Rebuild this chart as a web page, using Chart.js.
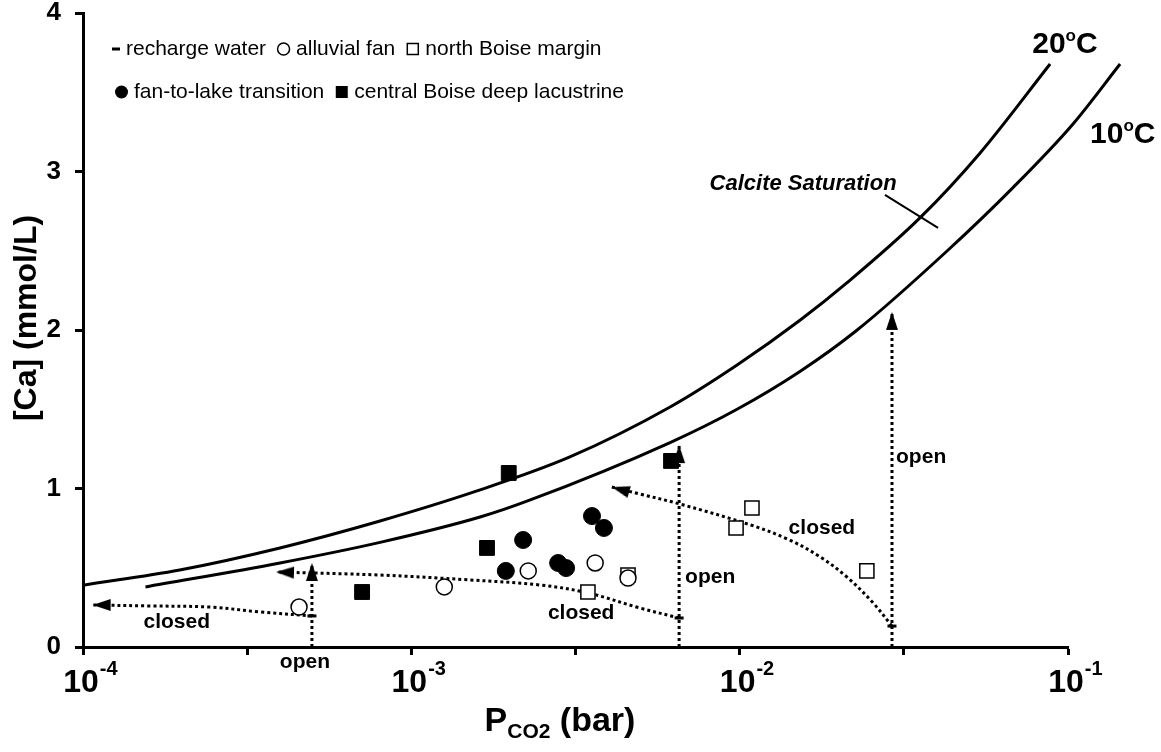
<!DOCTYPE html>
<html>
<head>
<meta charset="utf-8">
<script src="https://cdn.jsdelivr.net/npm/chart.js@4.4.1/dist/chart.umd.min.js"></script>
<style>
html,body{margin:0;padding:0;background:#fff;}
#wrap{width:1161px;height:752px;position:relative;}
</style>
</head>
<body>
<div id="wrap"><canvas id="calciteChart" width="1161" height="752"></canvas></div>
<script>
// calcite saturation curves
var sat20P  = [1.0e-4, 1.97e-4, 3.98e-4, 8.03e-4, 1.56e-3, 3.04e-3, 6.14e-3, 9.82e-3, 1.53e-2, 2.12e-2, 3.54e-2, 5.40e-2, 8.82e-2];
var sat20Ca = [0.39, 0.486, 0.625, 0.795, 0.98, 1.199, 1.514, 1.779, 2.063, 2.297, 2.707, 3.117, 3.678];
var sat10P  = [1.55e-4, 3.98e-4, 8.03e-4, 1.62e-3, 2.25e-3, 6.14e-3, 9.82e-3, 1.53e-2, 2.28e-2, 4.29e-2, 6.81e-2, 0.1036, 0.1441];
var sat10Ca = [0.379, 0.53, 0.66, 0.82, 0.92, 1.29, 1.50, 1.74, 2.00, 2.50, 2.90, 3.30, 3.678];

// samples
var rechargeP  = [4.98e-4, 6.54e-3, 2.91e-2];
var rechargeCa = [0.196, 0.183, 0.132];
var alluvialP  = [4.55e-4, 1.26e-3, 2.27e-3, 3.63e-3, 4.57e-3];
var alluvialCa = [0.252, 0.379, 0.480, 0.530, 0.435];
var northP  = [3.45e-3, 4.57e-3, 9.75e-3, 1.09e-2, 2.44e-2];
var northCa = [0.347, 0.454, 0.751, 0.877, 0.480];
var fanLakeP  = [1.94e-3, 2.19e-3, 2.80e-3, 2.96e-3, 3.55e-3, 3.86e-3];
var fanLakeCa = [0.480, 0.675, 0.530, 0.498, 0.826, 0.751];
var centralP  = [7.08e-4, 1.70e-3, 1.98e-3, 6.18e-3];
var centralCa = [0.347, 0.625, 1.098, 1.174];

// evolution paths (dotted arrows)
var closed1P  = [4.98e-4, 3.46e-4, 2.44e-4, 1.60e-4, 1.07e-4];
var closed1Ca = [0.196, 0.221, 0.252, 0.259, 0.265];
var open1P  = [4.98e-4, 4.98e-4];
var open1Ca = [0, 0.53];
var closed2P  = [6.54e-3, 4.97e-3, 3.45e-3, 2.47e-3, 1.51e-3, 8.03e-4, 3.87e-4];
var closed2Ca = [0.183, 0.246, 0.341, 0.391, 0.423, 0.454, 0.473];
var open2P  = [6.54e-3, 6.54e-3];
var open2Ca = [0, 1.274];
var closed3P  = [2.91e-2, 2.55e-2, 2.12e-2, 1.76e-2, 1.42e-2, 1.08e-2, 6.58e-3, 4.97e-3, 4.08e-3];
var closed3Ca = [0.132, 0.278, 0.442, 0.568, 0.675, 0.770, 0.902, 0.965, 1.009];
var open3P  = [2.91e-2, 2.91e-2];
var open3Ca = [0, 2.114];
var leaderP  = [2.77e-2, 4.02e-2];
var leaderCa = [2.852, 2.644];

// axes
var xTickValues = [1e-4, 3.162e-4, 1e-3, 3.162e-3, 1e-2, 3.162e-2, 1e-1];
var xDecades = [1e-4, 1e-3, 1e-2, 1e-1];
var xExponents = ['-4', '-3', '-2', '-1'];
var yTickValues = [0, 1, 2, 3, 4];

var legendLabels = ['recharge water', 'alluvial fan', 'north Boise margin', 'fan-to-lake transition', 'central Boise deep lacustrine'];

// text notes in data coords: [text, P, Ca]
var notes = [
  ['closed', 1.93e-4, 0.158],
  ['open', 4.74e-4, -0.095],
  ['closed', 3.29e-3, 0.215],
  ['open', 8.13e-3, 0.442],
  ['closed', 1.78e-2, 0.751],
  ['open', 3.57e-2, 1.199]
];

var FONT = '"Liberation Sans", Arial, Helvetica, sans-serif';

function pts(xs, ys){
	return xs.map(function(x, i){ return {x: x, y: ys[i]}; });
}

function makeArrowHead(){
	var c = document.createElement('canvas');
	c.width = 14; c.height = 38;
	var g = c.getContext('2d');
	g.fillStyle = '#000';
	g.beginPath();
	g.moveTo(7, 19);
	g.lineTo(13, 37);
	g.lineTo(1, 37);
	g.closePath();
	g.fill();
	return c;
}
var arrowHead = makeArrowHead();

function arrowSet(xs, ys, angle, curved){
	var n = xs.length;
	var styles = [], radii = [], rots = [];
	for(var i = 0; i < n; i++){
		styles.push(i === n-1 ? arrowHead : 'circle');
		radii.push(i === n-1 ? 5 : 0);
		rots.push(i === n-1 ? angle : 0);
	}
	return {
		data: pts(xs, ys),
		showLine: true,
		borderColor: '#000',
		borderWidth: 3,
		borderDash: [3, 3],
		borderCapStyle: 'butt',
		tension: curved ? 0.35 : 0,
		pointStyle: styles,
		pointRadius: radii,
		rotation: rots,
		pointBackgroundColor: '#000',
		pointBorderWidth: 0
	};
}

function curveSet(xs, ys){
	// listed high-to-low so chart.js does not trim the points past the axis end
	return {
		data: pts(xs, ys).reverse(),
		showLine: true,
		borderColor: '#000',
		borderWidth: 3,
		pointRadius: 0,
		cubicInterpolationMode: 'monotone',
		clip: false
	};
}

var figureText = {
	id: 'figureText',
	afterDraw: function(chart){
		var ctx = chart.ctx;
		var xs = chart.scales.x, ys = chart.scales.y;
		var base = ys.getPixelForValue(0);
		ctx.save();
		ctx.fillStyle = '#000';

		// x tick labels 10^n
		xDecades.forEach(function(v, i){
			var px = xs.getPixelForValue(v) - 2;
			ctx.font = 'bold 32px ' + FONT;
			ctx.textAlign = 'center';
			ctx.textBaseline = 'alphabetic';
			var w = ctx.measureText('10').width;
			ctx.fillText('10', px, base + 45);
			ctx.font = 'bold 20px ' + FONT;
			ctx.textAlign = 'left';
			ctx.fillText(xExponents[i], px + w/2 + 1, base + 28);
		});

		// x title  P_CO2 (bar)
		ctx.textAlign = 'left';
		ctx.font = 'bold 34px ' + FONT;
		var wP = ctx.measureText('P').width;
		var wBar = ctx.measureText(' (bar)').width;
		ctx.font = 'bold 21px ' + FONT;
		var wSub = ctx.measureText('CO2').width;
		var tx = 560 - (wP + wSub + wBar)/2;
		var ty = base + 84;
		ctx.font = 'bold 34px ' + FONT;
		ctx.fillText('P', tx, ty);
		ctx.font = 'bold 21px ' + FONT;
		ctx.fillText('CO2', tx + wP, ty + 7);
		ctx.font = 'bold 34px ' + FONT;
		ctx.fillText(' (bar)', tx + wP + wSub, ty);

		// y title
		ctx.save();
		ctx.translate(27, 318);
		ctx.rotate(-Math.PI/2);
		ctx.textAlign = 'center';
		ctx.textBaseline = 'middle';
		ctx.font = 'bold 32px ' + FONT;
		ctx.fillText('[Ca] (mmol/L)', 0, 0);
		ctx.restore();

		// open / closed notes
		ctx.font = 'bold 21px ' + FONT;
		ctx.textAlign = 'center';
		ctx.textBaseline = 'middle';
		notes.forEach(function(n){
			ctx.fillText(n[0], xs.getPixelForValue(n[1]), ys.getPixelForValue(n[2]));
		});

		// Calcite Saturation
		ctx.font = 'italic bold 22px ' + FONT;
		ctx.fillText('Calcite Saturation', xs.getPixelForValue(1.56e-2), ys.getPixelForValue(2.921));

		// temperature labels
		function tempLabel(t, p, ca){
			var x = xs.getPixelForValue(p), y = ys.getPixelForValue(ca);
			ctx.textAlign = 'left';
			ctx.textBaseline = 'alphabetic';
			ctx.font = 'bold 30px ' + FONT;
			ctx.fillText(t, x, y);
			var w = ctx.measureText(t).width;
			ctx.font = 'bold 17px ' + FONT;
			ctx.fillText('o', x + w, y - 12);
			var wo = ctx.measureText('o').width;
			ctx.font = 'bold 30px ' + FONT;
			ctx.fillText('C', x + w + wo, y);
		}
		tempLabel('20', 7.78e-2, 3.748);
		tempLabel('10', 0.1167, 3.18);

		// legend
		ctx.font = '21px ' + FONT;
		ctx.textBaseline = 'middle';
		ctx.textAlign = 'left';
		function marker(kind, cx, cy){
			ctx.lineWidth = 1.5;
			ctx.strokeStyle = '#000';
			ctx.fillStyle = '#000';
			if(kind === 'dash'){
				ctx.fillRect(cx - 4, cy - 1.5, 8, 3);
			}else if(kind === 'ocircle' || kind === 'fcircle'){
				ctx.beginPath();
				ctx.arc(cx, cy, kind === 'fcircle' ? 6.5 : 6, 0, Math.PI*2);
				if(kind === 'fcircle') ctx.fill(); else ctx.stroke();
			}else if(kind === 'osquare'){
				ctx.strokeRect(cx - 5.5, cy - 5.5, 11, 11);
			}else{
				ctx.fillRect(cx - 6, cy - 6, 12, 12);
			}
		}
		function legendRow(kinds, labels, x, y){
			kinds.forEach(function(k, i){
				var mw = k === 'dash' ? 8 : 13;
				marker(k, x + mw/2, y);
				x += mw + 6;
				ctx.fillText(labels[i], x, y);
				x += ctx.measureText(labels[i]).width + 11;
			});
		}
		legendRow(['dash', 'ocircle', 'osquare'], legendLabels.slice(0, 3), 112, 49);
		legendRow(['fcircle', 'fsquare'], legendLabels.slice(3), 115, 92);

		ctx.restore();
	}
};

var datasets = [
	{ data: pts(alluvialP, alluvialCa), pointStyle: 'circle', pointRadius: 8, pointBackgroundColor: '#fff', pointBorderColor: '#000', pointBorderWidth: 1.5 },
	{ data: pts(fanLakeP, fanLakeCa), pointStyle: 'circle', pointRadius: 8.5, pointBackgroundColor: '#000', pointBorderColor: '#000', pointBorderWidth: 1 },
	{ data: pts(centralP, centralCa), pointStyle: 'rect', pointRadius: 10.5, pointBackgroundColor: '#000', pointBorderColor: '#000', pointBorderWidth: 1 },
	{ data: pts(northP, northCa), pointStyle: 'rect', pointRadius: 10, pointBackgroundColor: '#fff', pointBorderColor: '#000', pointBorderWidth: 1.5 },
	{ data: pts(rechargeP, rechargeCa), pointStyle: 'line', pointRadius: 4.5, pointBorderColor: '#000', pointBorderWidth: 3 },
	arrowSet(closed1P, closed1Ca, -90, true),
	arrowSet(open1P, open1Ca, 0, false),
	arrowSet(closed2P, closed2Ca, -88, true),
	arrowSet(open2P, open2Ca, 0, false),
	arrowSet(closed3P, closed3Ca, -74, true),
	arrowSet(open3P, open3Ca, 0, false),
	curveSet(sat20P, sat20Ca),
	curveSet(sat10P, sat10Ca),
	{ data: pts(leaderP, leaderCa), showLine: true, borderColor: '#000', borderWidth: 2, pointRadius: 0 }
];

new Chart(document.getElementById('calciteChart'), {
	type: 'scatter',
	data: { datasets: datasets },
	options: {
		responsive: false,
		animation: false,
		layout: { padding: { top: 13, right: 93, left: 0, bottom: 0 } },
		plugins: { legend: { display: false }, tooltip: { enabled: false } },
		scales: {
			x: {
				type: 'logarithmic',
				min: 1e-4,
				max: 0.1,
				afterBuildTicks: function(scale){
					scale.ticks = xTickValues.map(function(v){ return {value: v}; });
				},
				afterFit: function(scale){
					scale.height = 105;
					scale.paddingLeft = 0;
					scale.paddingRight = 0;
				},
				ticks: { callback: function(){ return ''; }, autoSkip: false },
				grid: { display: true, drawOnChartArea: false, tickLength: 8, tickWidth: 3, tickColor: '#000' },
				border: { display: true, width: 3, color: '#000' }
			},
			y: {
				min: 0,
				max: 4,
				afterBuildTicks: function(scale){
					scale.ticks = yTickValues.map(function(v){ return {value: v}; });
				},
				afterFit: function(scale){
					scale.width = 83;
					scale.paddingTop = 0;
					scale.paddingBottom = 0;
				},
				ticks: { color: '#000', padding: 14, font: { family: FONT, size: 26, weight: 'bold' } },
				grid: { display: true, drawOnChartArea: false, tickLength: 8, tickWidth: 3, tickColor: '#000' },
				border: { display: true, width: 3, color: '#000' }
			}
		}
	},
	plugins: [figureText]
});
</script>
</body>
</html>
